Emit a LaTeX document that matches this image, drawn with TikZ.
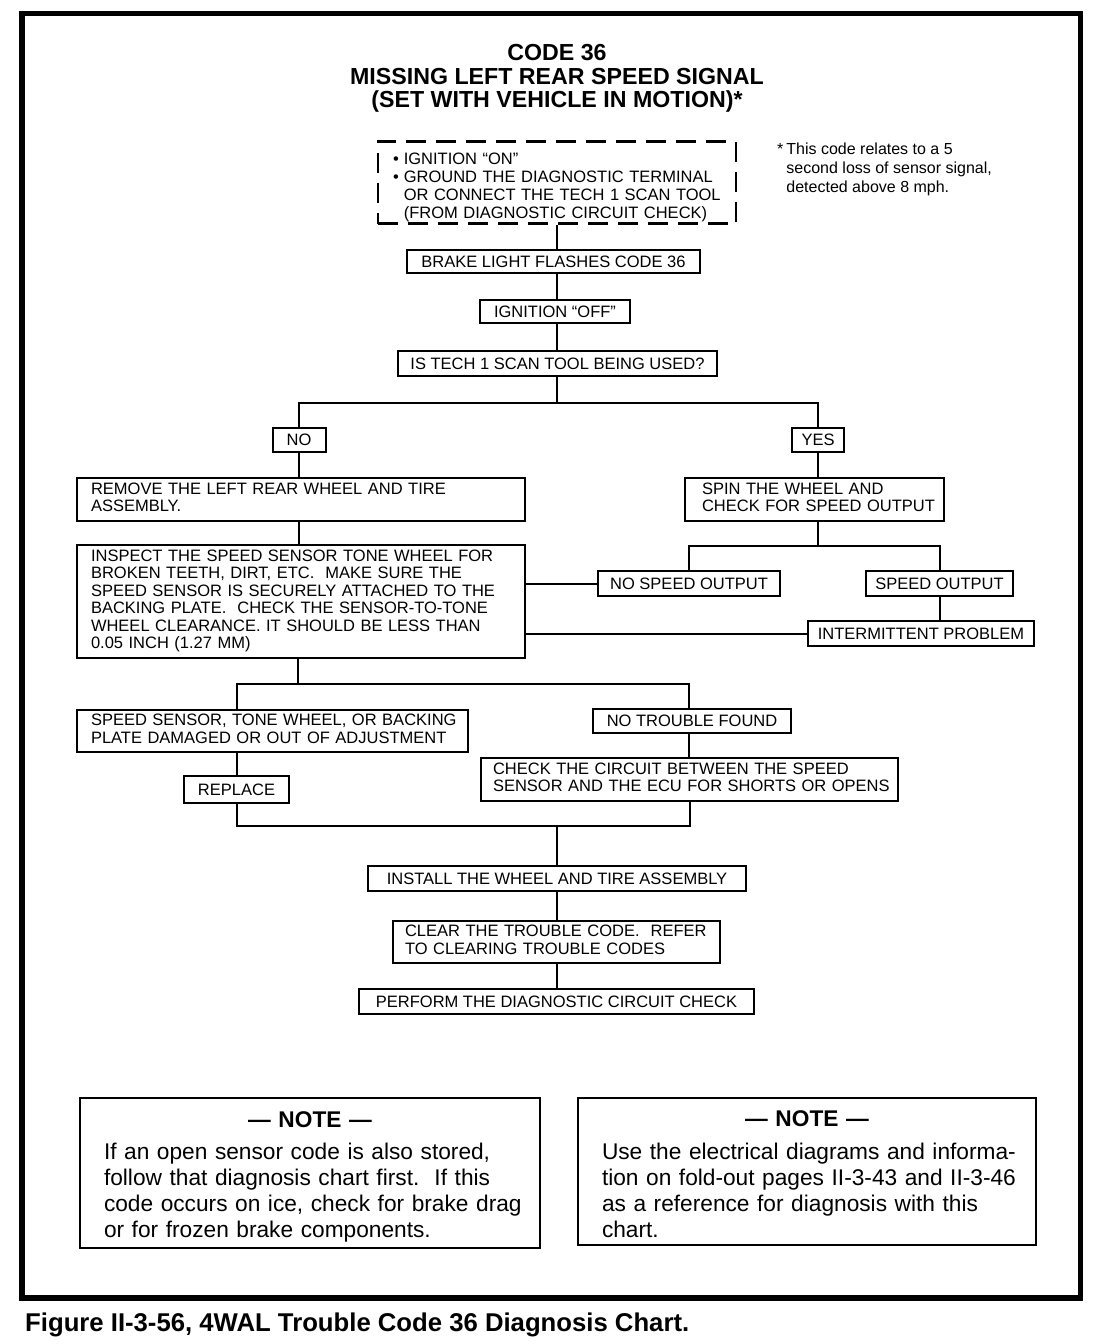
\documentclass[tikz,border=0pt]{standalone}
\usepackage{fontspec}
\setmainfont{Liberation Sans}
\newcommand\boxlines[1]{\begin{tabular}{@{}l@{}}#1\end{tabular}}
\newcommand\padtop[2]{\raisebox{0pt}[\dimexpr\height+#1\relax]{#2}}
\begin{document}
\begin{tikzpicture}[x=1pt,y=-1pt,
  box/.style={draw, line width=2pt, inner sep=0pt, font=\fontsize{16.5}{17.5}\selectfont, align=center},
  mbox/.style={box, align=left, inner xsep=14pt, inner ysep=0pt},
  dbox/.style={draw, line width=2.5pt, dash pattern=on 20pt off 10pt, inner xsep=15pt, inner ysep=0pt,
     font=\fontsize{16.5}{17.8}\selectfont, align=left},
  notebox/.style={draw, line width=2pt, inner xsep=24pt, inner ysep=0pt,
     font=\fontsize{22.7}{26}\selectfont, align=left},
  conn/.style={line width=2pt}]
\useasboundingbox (0,0) rectangle (1104,1344);
% outer frame
\draw[line width=5.5pt] (22,13.5) rectangle (1080.5,1298);

% title
\node[font=\fontsize{23.2}{23.5}\selectfont\bfseries, align=center, inner sep=0pt] (title) at (557,78.5)
  {CODE 36\\MISSING LEFT REAR SPEED SIGNAL\\(SET WITH VEHICLE IN MOTION)*};

% footnote
\node[anchor=north west, inner sep=0pt, font=\fontsize{16}{19}\selectfont] (foot) at (777,141)
  {\begin{tabular}{@{}l@{\hspace{3pt}}l@{}}*&This code relates to a 5\\ &second loss of sensor signal,\\ &detected above 8 mph.\end{tabular}};

% start box
\node[dbox, text width=328pt, minimum height=79pt] (start) at (557,182.5)
  {\padtop{11pt}{\begin{tabular}{@{}l@{\hspace{5pt}}l@{}}\textbullet & IGNITION “ON”\\ \textbullet & GROUND THE DIAGNOSTIC TERMINAL\\ & OR CONNECT THE TECH 1 SCAN TOOL\\ & (FROM DIAGNOSTIC CIRCUIT CHECK)\end{tabular}}};

\node[box, minimum width=293pt, minimum height=23pt] (brake) at (553.5,261.5) {BRAKE LIGHT FLASHES CODE 36};
\node[box, minimum width=150pt, minimum height=23pt] (ignoff) at (555,311.5) {IGNITION “OFF”};
\node[box, minimum width=319pt, minimum height=25pt] (q) at (557.5,363.5) {IS TECH 1 SCAN TOOL BEING USED?};
\node[box, minimum width=53pt, minimum height=24pt] (no) at (299,440) {NO};
\node[box, minimum width=52pt, minimum height=24pt] (yes) at (818,440) {YES};

\node[mbox, text width=420pt, minimum height=43pt] (remove) at (301,499.5)
  {\boxlines{REMOVE THE LEFT REAR WHEEL AND TIRE\\ASSEMBLY.}};
\node[mbox, text width=420pt, minimum height=113pt] (inspect) at (301,601.5)
  {\boxlines{INSPECT THE SPEED SENSOR TONE WHEEL FOR\\BROKEN TEETH, DIRT, ETC.\ \ MAKE SURE THE\\SPEED SENSOR IS SECURELY ATTACHED TO THE\\BACKING PLATE.\ \ CHECK THE SENSOR-TO-TONE\\WHEEL CLEARANCE. IT SHOULD BE LESS THAN\\0.05 INCH (1.27 MM)}};

\node[mbox, inner xsep=17pt, text width=225pt, minimum height=43pt] (spin) at (814.5,499.5)
  {\boxlines{SPIN THE WHEEL AND\\CHECK FOR SPEED OUTPUT}};
\node[box, minimum width=182pt, minimum height=25pt] (nso) at (689,583.5) {NO SPEED OUTPUT};
\node[box, minimum width=147pt, minimum height=25pt] (so) at (939.5,583.5) {SPEED OUTPUT};
\node[box, minimum width=226pt, minimum height=25pt] (inter) at (921,633.5) {INTERMITTENT PROBLEM};

\node[mbox, text width=363pt, minimum height=42pt] (ssd) at (272.5,731)
  {\boxlines{SPEED SENSOR, TONE WHEEL, OR BACKING\\PLATE DAMAGED OR OUT OF ADJUSTMENT}};
\node[box, minimum width=105pt, minimum height=27pt] (rep) at (236.5,789.5) {REPLACE};
\node[box, minimum width=198pt, minimum height=24pt] (ntf) at (692,721) {NO TROUBLE FOUND};
\node[mbox, inner xsep=12pt, text width=393pt, minimum height=43pt] (check) at (689.5,779.5)
  {\boxlines{CHECK THE CIRCUIT BETWEEN THE SPEED\\SENSOR AND THE ECU FOR SHORTS OR OPENS}};

\node[box, minimum width=378pt, minimum height=25pt] (install) at (557,878.5) {INSTALL THE WHEEL AND TIRE ASSEMBLY};
\node[mbox, inner xsep=12pt, text width=303pt, minimum height=42pt] (clear) at (556.5,942)
  {\boxlines{CLEAR THE TROUBLE CODE.\ \ REFER\\TO CLEARING TROUBLE CODES}};
\node[box, minimum width=395pt, minimum height=25pt] (perform) at (556.5,1001.5) {PERFORM THE DIAGNOSTIC CIRCUIT CHECK};

% notes
\node[notebox, text width=412pt, minimum height=150pt] (note1) at (310,1173)
  {\makebox[\linewidth]{\padtop{11pt}{\bfseries — NOTE —}}\\[13pt]
   \boxlines{If an open sensor code is also stored,\\follow that diagnosis chart first.\ \ If this\\code occurs on ice, check for brake drag\\or for frozen brake components.}};
\node[notebox, text width=410pt, minimum height=147pt] (note2) at (807,1171.5)
  {\makebox[\linewidth]{\padtop{13pt}{\bfseries — NOTE —}}\\[13pt]
   \boxlines{Use the electrical diagrams and informa-\\tion on fold-out pages II-3-43 and II-3-46\\as a reference for diagnosis with this\\chart.}};

% caption
\node[anchor=base west, inner sep=0pt, font=\fontsize{25.7}{28}\selectfont\bfseries] (cap) at (25,1331)
  {Figure II-3-56, 4WAL Trouble Code 36 Diagnosis Chart.};

% connectors
\draw[conn] (start.south) -- (start.south |- brake.north);
\draw[conn] (start.south |- brake.south) -- (start.south |- ignoff.north);
\draw[conn] (start.south |- ignoff.south) -- (start.south |- q.north);
\coordinate (jq) at (557,403);
\draw[conn] (jq |- q.south) -- (jq);
\draw[conn] (jq) -| (no.north);
\draw[conn] (jq) -| (yes.north);
\draw[conn] (no.south) -- (no.south |- remove.north);
\draw[conn] (yes.south) -- (yes.south |- spin.north);
\draw[conn] (no.south |- remove.south) -- (no.south |- inspect.north);
\coordinate (js) at (818,546);
\draw[conn] (js |- spin.south) -- (js);
\draw[conn] (nso.north) |- (so.north |- js) -- (so.north);
\draw[conn] (so.south) -- (so.south |- inter.north);
\draw[conn] (inspect.east |- nso.west) -- (nso.west);
\draw[conn] (inspect.east |- inter.west) -- (inter.west);
\coordinate (jl) at (298,684);
\coordinate (jl1) at (237,684);
\coordinate (jr) at (689,684);
\draw[conn] (jl |- inspect.south) -- (jl);
\draw[conn] (jl1 |- ssd.north) -- (jl1) -- (jr) -- (jr |- ntf.north);
\draw[conn] (jl1 |- ssd.south) -- (jl1 |- rep.north);
\draw[conn] (jr |- ntf.south) -- (jr |- check.north);
\coordinate (jb) at (237,826);
\draw[conn] (rep.south) |- (check.south |- jb) -- (check.south);
\draw[conn] (install.north |- jb) -- (install.north);
\draw[conn] (install.south) -- (install.south |- clear.north);
\draw[conn] (install.south |- clear.south) -- (install.south |- perform.north);
\end{tikzpicture}
\end{document}
